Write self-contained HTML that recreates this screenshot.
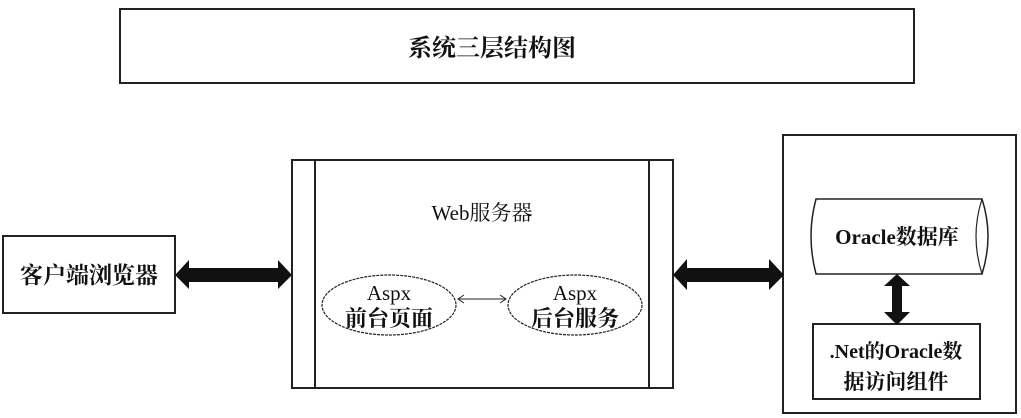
<!DOCTYPE html>
<html><head><meta charset="utf-8"><style>
html,body{margin:0;padding:0;background:#fff;width:1021px;height:418px;overflow:hidden}
text{font-family:"Liberation Serif","Noto Serif CJK SC",serif;fill:#111}
</style></head><body>
<svg width="1021" height="418" viewBox="0 0 1021 418" xmlns="http://www.w3.org/2000/svg">
<g stroke="#222" fill="none" stroke-width="2">
<rect x="120" y="9" width="794" height="74"/>
<rect x="3" y="236" width="172" height="77"/>
<rect x="292" y="160" width="381" height="228"/>
<line x1="315" y1="160" x2="315" y2="388"/>
<line x1="649" y1="160" x2="649" y2="388"/>
<rect x="783" y="135" width="233" height="278"/>
<rect x="813" y="324" width="167" height="75"/>
<ellipse cx="389" cy="305" rx="67" ry="30" stroke-width="1.2" stroke-dasharray="3 1"/>
<ellipse cx="575" cy="305" rx="67" ry="30" stroke-width="1.2" stroke-dasharray="3 1"/>
<path d="M816 199 H982 Q994 236 982 274 H816 Q806 236 816 199 Z" stroke-width="1.5"/>
<path d="M982 199 Q970 236 982 274" stroke-width="1.2"/>
<line x1="458" y1="299" x2="506" y2="299" stroke-width="1"/>
<path d="M464 295 L458 299 L464 303 M500 295 L506 299 L500 303" stroke-width="1"/>
</g>
<g fill="#111">
<path d="M175 275 L189 260 L189 268 L278 268 L278 260 L292 275 L278 289 L278 282 L189 282 L189 289 Z"/>
<path d="M673 275 L687 259 L687 268 L769 268 L769 259 L784 275 L769 290 L769 282 L687 282 L687 290 Z"/>
<path d="M897 274 L910 286 L902 286 L902 312 L910 312 L897 325 L884 312 L892 312 L892 286 L884 286 Z"/>
</g>
<text x="492" y="56" font-size="24" font-weight="bold" text-anchor="middle">系统三层结构图</text>
<text x="89" y="283" font-size="23" font-weight="bold" text-anchor="middle">客户端浏览器</text>
<text x="482" y="220" font-size="21" text-anchor="middle">Web服务器</text>
<text x="389" y="300" font-size="21" text-anchor="middle">Aspx</text>
<text x="389" y="326" font-size="22" font-weight="bold" text-anchor="middle">前台页面</text>
<text x="575" y="300" font-size="21" text-anchor="middle">Aspx</text>
<text x="575" y="326" font-size="22" font-weight="bold" text-anchor="middle">后台服务</text>
<text x="897" y="244" font-size="21" font-weight="bold" text-anchor="middle">Oracle数据库</text>
<text x="896" y="358" font-size="20" font-weight="bold" text-anchor="middle">.Net的Oracle数</text>
<text x="896" y="389" font-size="21" font-weight="bold" text-anchor="middle">据访问组件</text>
</svg>
</body></html>
